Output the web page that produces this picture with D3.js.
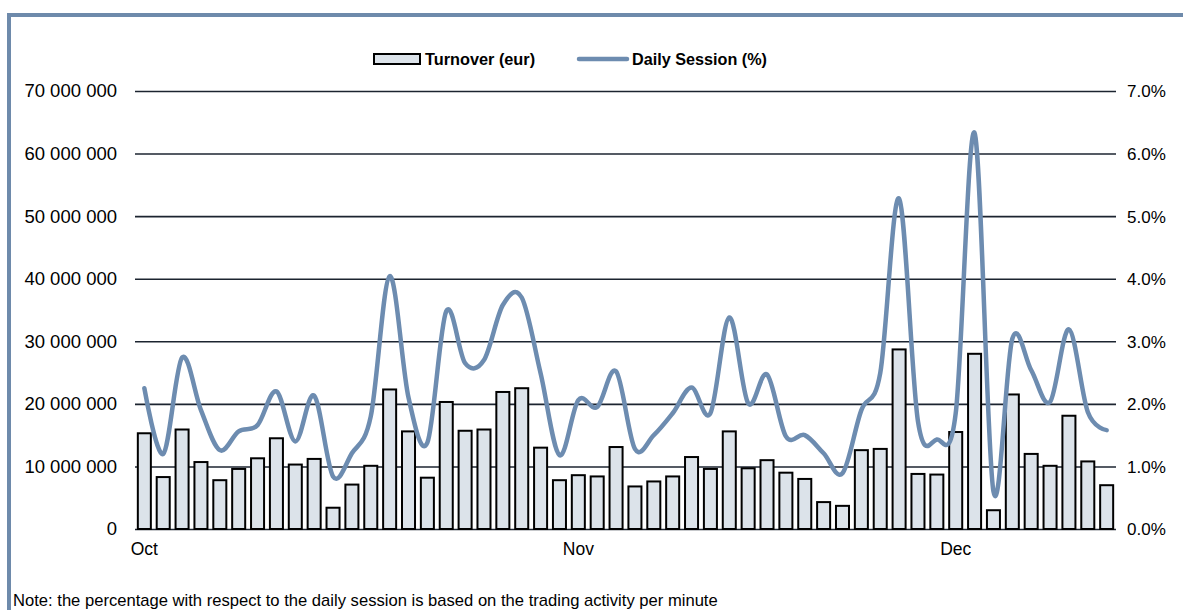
<!DOCTYPE html>
<html>
<head>
<meta charset="utf-8">
<script src="https://cdn.jsdelivr.net/npm/d3@7"></script>
<style>
  html, body { margin: 0; padding: 0; background: #fff; }
  svg { display: block; font-family: "Liberation Sans", Arial, sans-serif; }
</style>
</head>
<body>
<svg id="chart" width="1183" height="610"></svg>
<script>
// ---- data ----
const monthNames = ["Oct", "Nov", "Dec"];
const monthDayCounts = [23, 20, 9];
const turnover = [
  15300000, 8300000, 15900000, 10700000, 7800000, 9600000, 11300000, 14500000, 10300000, 11200000,
  3400000, 7100000, 10100000, 22300000, 15600000, 8200000, 20300000, 15700000, 15900000, 21900000,
  22500000, 13000000, 7800000, 8600000, 8400000, 13100000, 6800000, 7600000, 8400000, 11500000,
  9600000, 15600000, 9700000, 11000000, 9000000, 8000000, 4300000, 3700000, 12600000, 12800000,
  28700000, 8800000, 8700000, 15500000, 28000000, 3000000, 21500000, 12000000, 10100000, 18100000,
  10800000, 7000000
];
const dailySession = [
  2.25, 1.20, 2.74, 1.90, 1.26, 1.56, 1.66, 2.20, 1.40, 2.13,
  0.84, 1.21, 1.80, 4.04, 2.10, 1.38, 3.48, 2.65, 2.70, 3.58,
  3.70, 2.49, 1.18, 2.06, 1.95, 2.52, 1.28, 1.50, 1.85, 2.26,
  1.85, 3.38, 2.01, 2.47, 1.48, 1.50, 1.21, 0.89, 1.90, 2.49,
  5.28, 1.72, 1.43, 1.85, 6.33, 0.60, 3.04, 2.54, 2.03, 3.19,
  1.87, 1.58
];
const leftTicks = [0, 10000000, 20000000, 30000000, 40000000, 50000000, 60000000, 70000000];
const rightTicks = [0, 1, 2, 3, 4, 5, 6, 7];
const seriesNames = ["Turnover (eur)", "Daily Session (%)"];
const noteText = "Note: the percentage with respect to the daily session is based on the trading activity per minute";

// categories: trading days, labelled by month
const categories = [];
monthNames.forEach((m, mi) => {
  for (let d = 1; d <= monthDayCounts[mi]; d++) categories.push(m + "-" + d);
});
const monthStarts = monthNames.map(m => m + "-1");

// ---- layout ----
const svg = d3.select("#chart");
const plot = { left: 135, right: 1116, top: 91, bottom: 529 };

const x = d3.scaleBand().domain(categories).range([plot.left, plot.right]).paddingInner(0.31).paddingOuter(0.15);
const yL = d3.scaleLinear().domain([0, 70000000]).range([plot.bottom, plot.top]);
const yR = d3.scaleLinear().domain([0, 7]).range([plot.bottom, plot.top]);

const locale = d3.formatLocale({ decimal: ".", thousands: " ", grouping: [3], currency: ["", ""] });
const fmtL = locale.format(",");
const fmtR = v => d3.format(".1f")(v) + "%";

// frame
svg.append("rect").attr("x", 9).attr("y", 15).attr("width", 1300).attr("height", 700)
  .attr("fill", "none").attr("stroke", "#6e8aab").attr("stroke-width", 4);

// gridlines (via left axis)
const gridAxis = d3.axisLeft(yL).tickValues(leftTicks).tickSize(-(plot.right - plot.left)).tickFormat("");
const gg = svg.append("g").attr("transform", `translate(${plot.left},0)`).call(gridAxis);
gg.select(".domain").remove();
gg.selectAll("line").attr("stroke", "#1c2430").attr("stroke-width", 1.6);

// left axis labels
const la = svg.append("g").attr("transform", `translate(117,0)`)
  .call(d3.axisLeft(yL).tickValues(leftTicks).tickSize(0).tickPadding(0).tickFormat(fmtL));
la.select(".domain").remove();
la.selectAll("text").attr("font-size", 18.5).attr("fill", "#000").attr("font-family", "Liberation Sans, Arial, sans-serif");

// right axis labels
const ra = svg.append("g").attr("transform", `translate(1127,0.5)`)
  .call(d3.axisRight(yR).tickValues(rightTicks).tickSize(0).tickPadding(0).tickFormat(fmtR));
ra.select(".domain").remove();
ra.selectAll("text").attr("font-size", 17).attr("fill", "#000").attr("font-family", "Liberation Sans, Arial, sans-serif");

// bars
svg.append("g").selectAll("rect").data(turnover).join("rect")
  .attr("x", (d, i) => x(categories[i]))
  .attr("y", d => yL(d))
  .attr("width", x.bandwidth())
  .attr("height", d => yL(0) - yL(d))
  .attr("fill", "#dce3ea")
  .attr("stroke", "#000")
  .attr("stroke-width", 2);

// bottom axis (month labels)
const xa = svg.append("g").attr("transform", `translate(0,${plot.bottom + 14})`)
  .call(d3.axisBottom(x).tickValues(monthStarts).tickSize(0).tickPadding(0).tickFormat(d => d.split("-")[0]));
xa.select(".domain").remove();
xa.selectAll("text").attr("font-size", 17.5).attr("fill", "#000").attr("dy", "0.71em").attr("font-family", "Liberation Sans, Arial, sans-serif");

// line
const line = d3.line()
  .x((d, i) => x(categories[i]) + x.bandwidth() / 2)
  .y(d => yR(d))
  .curve(d3.curveCatmullRom.alpha(0));
svg.append("path").datum(dailySession)
  .attr("d", line)
  .attr("fill", "none")
  .attr("stroke", "#6d8cb0")
  .attr("stroke-width", 4.5)
  .attr("stroke-linejoin", "round")
  .attr("stroke-linecap", "round");

// legend
const lg = svg.append("g");
lg.append("rect").attr("x", 374).attr("y", 54).attr("width", 46).attr("height", 10)
  .attr("fill", "#dce3ea").attr("stroke", "#000").attr("stroke-width", 2);
lg.append("text").attr("x", 425).attr("y", 65).text(seriesNames[0])
  .attr("font-size", 16.3).attr("font-weight", "bold").attr("fill", "#000");
lg.append("line").attr("x1", 579).attr("x2", 627).attr("y1", 59).attr("y2", 59)
  .attr("stroke", "#6d8cb0").attr("stroke-width", 4.5).attr("stroke-linecap", "round");
lg.append("text").attr("x", 632).attr("y", 65).text(seriesNames[1])
  .attr("font-size", 16.2).attr("font-weight", "bold").attr("fill", "#000");

// note
svg.append("text").attr("x", 13).attr("y", 606).text(noteText)
  .attr("font-size", 16.6).attr("fill", "#000");
</script>
</body>
</html>
